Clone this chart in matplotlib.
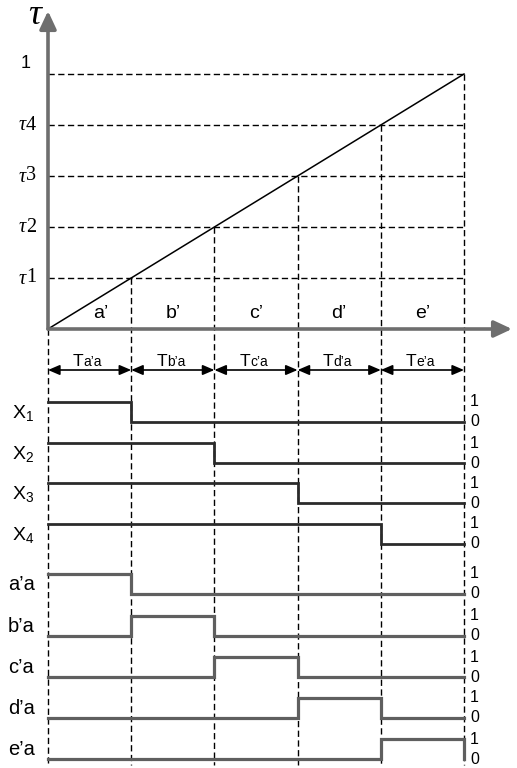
import matplotlib.pyplot as plt

plt.rcParams["font.family"] = ["Liberation Sans", "DejaVu Sans"]
plt.rcParams["mathtext.fontset"] = "custom"
plt.rcParams["mathtext.rm"] = "Liberation Sans"
plt.rcParams["mathtext.it"] = "Liberation Sans"

# chart data
segments = ["a’", "b’", "c’", "d’", "e’"]
period_subs = ["a’a", "b’a", "c’a", "d’a", "e’a"]
tau_levels = [0.2, 0.4, 0.6, 0.8, 1.0]
tau_labels = ["1", "2", "3", "4", None]   # None -> plain "1" at the top
x_names = ["X$_1$", "X$_2$", "X$_3$", "X$_4$"]
x_states = [
    [1, 0, 0, 0, 0],
    [1, 1, 0, 0, 0],
    [1, 1, 1, 0, 0],
    [1, 1, 1, 1, 0],
]
sel_names = ["a’a", "b’a", "c’a", "d’a", "e’a"]
sel_states = [
    [1, 0, 0, 0, 0],
    [0, 1, 0, 0, 0],
    [0, 0, 1, 0, 0],
    [0, 0, 0, 1, 0],
    [0, 0, 0, 0, 1],
]

# layout: one axes over the whole figure, t in periods, y in tau units
W, H = 517, 768
X0, XPER = 48, 83.2      # pixel of t=0, pixels per period
Y0, YTAU = 329, 255      # pixel row of tau=0, pixels per unit tau


def ty(p):
    # pixel row (from top) -> y data
    return (Y0 - p) / YTAU


def tx(p):
    return (p - X0) / XPER


fig = plt.figure(figsize=(W / 100, H / 100), dpi=100)
ax = fig.add_axes([0, 0, 1, 1])
ax.set_xlim(tx(0), tx(W))
ax.set_ylim(ty(H), ty(0))
ax.axis("off")

n = len(segments)
dash = (0, (4.5, 2.5))
bottom = ty(765)

# dashed guides
ax.hlines(tau_levels, 0, n, colors="k", lw=1.0, linestyles=dash)
ax.vlines([0] + list(range(1, n + 1)), [0] + tau_levels, bottom,
          colors="k", lw=1.0, linestyles=dash)

# ramp
ax.plot([0, n], [0, tau_levels[-1]], color="k", lw=1.1)

# axes with arrows
axis_col = "#6e6e6e"
head = "-|>,head_length=0.6,head_width=0.28"
ax.annotate("", xy=(0, ty(11)), xytext=(0, 0),
            arrowprops=dict(arrowstyle=head, mutation_scale=18, color=axis_col,
                            lw=2.6, shrinkA=0, shrinkB=0))
ax.annotate("", xy=(tx(512), 0), xytext=(0, 0),
            arrowprops=dict(arrowstyle=head, mutation_scale=18, color=axis_col,
                            lw=2.6, shrinkA=0, shrinkB=0))
ax.text(tx(35), ty(15), "τ", family="Liberation Serif", style="italic",
        fontsize=26, ha="center", va="center")

# tau tick labels
for lvl, lab in zip(tau_levels, tau_labels):
    if lab is None:
        ax.text(tx(26), lvl + 11 / YTAU, "1", fontsize=13, ha="center", va="center")
    else:
        ax.text(tx(36), lvl, lab, family="Liberation Serif", fontsize=14.5,
                ha="right", va="center")
        ax.text(tx(26), lvl - 1 / YTAU, "τ", family="Liberation Serif",
                style="italic", fontsize=14.5, ha="right", va="center")

# segment names
seg_x = [i + 0.5 for i in range(n)]
seg_x[0] += 0.13
for xs, lab in zip(seg_x, segments):
    ax.text(xs, ty(313), lab, fontsize=14, ha="center", va="center")

# period arrows
for i, sub in enumerate(period_subs):
    ax.annotate("", xy=(i + 1, ty(370)), xytext=(i, ty(370)),
                arrowprops=dict(arrowstyle="<|-|>,head_length=0.7,head_width=0.3",
                                mutation_scale=10, color="k", lw=1.2,
                                shrinkA=0, shrinkB=0))
    ax.text(i + 0.5 - tx(54), ty(366), "T", fontsize=12.5, ha="right", va="baseline")
    ax.text(i + 0.5 - tx(54), ty(366), sub, fontsize=10, ha="left", va="baseline")

# timing rows
amp = 20 / YTAU


def draw_row(low_px, states, name, color, lw, name_x, name_size):
    base = ty(low_px)
    xs = list(range(n + 1)) + [n]
    ys = [base + s * amp for s in states] + [base + states[-1] * amp, base]
    ax.plot(xs, ys, drawstyle="steps-post", color=color, lw=lw,
            solid_joinstyle="miter")
    ax.text(n + tx(54), base + amp, "1", fontsize=11.5, ha="left", va="center")
    ax.text(n + tx(54), base, "0", fontsize=11.5, ha="left", va="center")
    ax.text(tx(name_x), base + 4 / YTAU, name, fontsize=name_size,
            ha="left", va="baseline")


x_rows = [422, 463, 503, 544]
for p, st, nm in zip(x_rows, x_states, x_names):
    draw_row(p, st, nm, "#2b2b2b", 2.0, 12, 14)

sel_rows = [594, 636, 677, 718, 759]
for p, st, nm in zip(sel_rows, sel_states, sel_names):
    draw_row(p, st, nm, "#5f5f5f", 2.3, 8, 14.5)

fig.savefig("out.png", dpi=100)
